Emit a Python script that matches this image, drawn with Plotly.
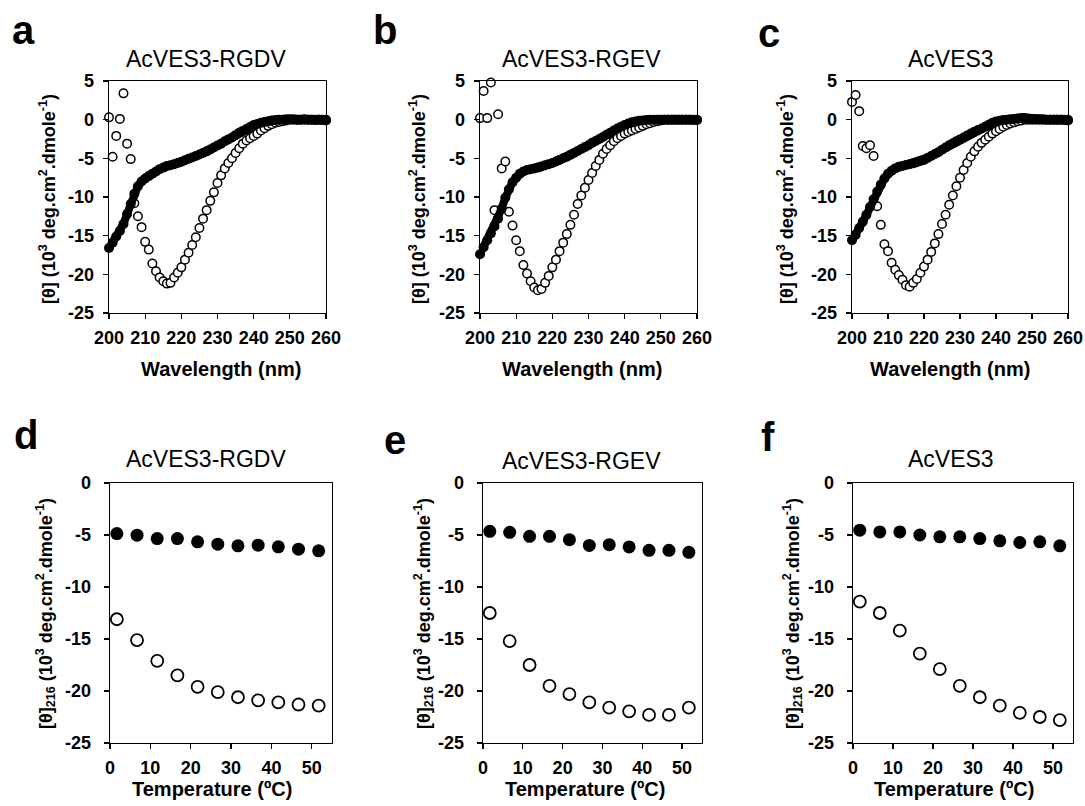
import plotly.graph_objects as go

# ---------------- data ----------------
WAVELENGTH = list(range(200, 261))

# Panel a: AcVES3-RGDV
A_FILLED = [-16.6, -15.9, -15.1, -14.4, -13.5, -12.2, -10.9, -9.6, -8.6, -8.0,
            -7.6, -7.3, -7.0, -6.7, -6.4, -6.2, -6.0, -5.9, -5.75, -5.6,
            -5.45, -5.25, -5.05, -4.9, -4.7, -4.5, -4.3, -4.1, -3.85, -3.6,
            -3.35, -3.1, -2.8, -2.55, -2.3, -2.0, -1.7, -1.45, -1.2, -0.95,
            -0.7, -0.55, -0.4, -0.3, -0.2, -0.1, -0.05, 0.0, 0.0, 0.05,
            0.05, 0.05, 0.0, 0.0, 0.05, 0.0, 0.0, -0.05, 0.0, -0.05, -0.1]
A_OPEN = [0.3, -4.8, -2.1, 0.1, 3.4, -3.1, -5.1, -10.8, -12.5, -13.9,
          -15.8, -16.8, -18.6, -19.6, -20.4, -20.9, -21.2, -21.1, -20.4, -19.8,
          -19.1, -18.1, -17.2, -16.2, -15.2, -14.0, -12.8, -11.7, -10.5, -9.4,
          -8.2, -7.2, -6.3, -5.6, -5.0, -4.3, -3.7, -3.1, -2.7, -2.4,
          -2.1, -1.8, -1.4, -1.1, -0.8, -0.6, -0.4, -0.3, -0.2, -0.1,
          0.0, 0.0, 0.0, 0.0, 0.0, 0.0, 0.0, 0.0, 0.0, 0.0, 0.0]

# Panel b: AcVES3-RGEV
B_FILLED = [-17.4, -16.5, -15.6, -14.7, -13.8, -12.8, -11.5, -10.1, -9.0, -8.1,
            -7.5, -7.0, -6.7, -6.5, -6.4, -6.3, -6.2, -6.05, -5.9, -5.75,
            -5.6, -5.4, -5.2, -5.0, -4.8, -4.55, -4.3, -4.05, -3.8, -3.55,
            -3.3, -3.0, -2.75, -2.5, -2.25, -1.95, -1.7, -1.4, -1.15, -0.9,
            -0.7, -0.5, -0.35, -0.25, -0.15, -0.1, -0.05, 0.0, 0.0, 0.0,
            0.0, 0.0, 0.0, 0.0, 0.0, 0.0, 0.0, 0.0, 0.0, -0.05, -0.05]
B_OPEN = [0.2, 3.7, 0.2, 4.8, -11.7, 0.7, -6.3, -5.4, -11.9, -13.7,
          -15.6, -17.0, -18.8, -19.9, -20.9, -21.7, -22.05, -21.9, -21.1, -20.2,
          -19.1, -18.1, -17.0, -15.9, -14.8, -13.6, -12.3, -10.9, -9.8, -8.8,
          -7.8, -6.9, -6.0, -5.2, -4.4, -3.8, -3.3, -2.8, -2.4, -2.1,
          -1.8, -1.6, -1.4, -1.2, -1.0, -0.8, -0.6, -0.45, -0.3, -0.2,
          -0.1, 0.0, 0.0, 0.0, 0.0, 0.0, 0.0, 0.0, 0.0, 0.0, 0.0]

# Panel c: AcVES3
C_FILLED = [-15.6, -14.9, -14.0, -13.2, -12.3, -11.3, -10.3, -9.3, -8.4, -7.6,
            -7.0, -6.6, -6.3, -6.1, -6.0, -5.85, -5.75, -5.65, -5.5, -5.35,
            -5.2, -4.95, -4.7, -4.45, -4.2, -3.9, -3.6, -3.3, -3.05, -2.8,
            -2.55, -2.3, -2.05, -1.8, -1.55, -1.35, -1.15, -0.9, -0.65, -0.4,
            -0.25, -0.15, -0.05, 0.0, 0.05, 0.1, 0.15, 0.2, 0.2, 0.15,
            0.1, 0.1, 0.05, 0.05, 0.0, 0.0, 0.0, 0.0, 0.0, -0.05, -0.1]
C_OPEN = [2.3, 3.2, 1.1, -3.4, -3.7, -3.3, -4.7, -11.2, -13.6, -16.1,
          -17.0, -18.5, -19.4, -20.1, -20.7, -21.4, -21.6, -21.1, -20.6, -19.8,
          -19.0, -18.1, -17.1, -16.0, -14.8, -13.5, -12.3, -11.0, -9.8, -8.6,
          -7.5, -6.5, -5.6, -4.8, -4.1, -3.5, -3.0, -2.6, -2.2, -1.8,
          -1.5, -1.2, -0.9, -0.7, -0.5, -0.35, -0.2, -0.1, 0.0, 0.0,
          0.0, 0.0, 0.0, 0.0, 0.0, 0.0, 0.0, 0.0, 0.0, 0.0, 0.0]

# Thermal melts, [theta]216
TEMPERATURE = [1.7, 6.7, 11.7, 16.7, 21.7, 26.7, 31.7, 36.7, 41.7, 46.7, 51.7]
D_FILLED = [-4.86, -5.02, -5.34, -5.34, -5.66, -5.88, -6.04, -5.98, -6.14, -6.36, -6.52]
D_OPEN = [-13.1, -15.1, -17.1, -18.5, -19.6, -20.1, -20.6, -20.9, -21.1, -21.3, -21.4]
E_FILLED = [-4.65, -4.74, -5.13, -5.13, -5.45, -6.0, -5.93, -6.15, -6.47, -6.47, -6.67]
E_OPEN = [-12.5, -15.2, -17.5, -19.5, -20.3, -21.1, -21.6, -21.95, -22.3, -22.3, -21.6]
F_FILLED = [-4.54, -4.7, -4.7, -5.0, -5.18, -5.18, -5.34, -5.56, -5.72, -5.66, -6.04]
F_OPEN = [-11.4, -12.5, -14.2, -16.4, -17.9, -19.5, -20.6, -21.4, -22.1, -22.5, -22.8]

TITLES = ["AcVES3-RGDV", "AcVES3-RGEV", "AcVES3", "AcVES3-RGDV", "AcVES3-RGEV", "AcVES3"]
LETTERS = ["a", "b", "c", "d", "e", "f"]
TOP_YTICKS = [5, 0, -5, -10, -15, -20, -25]
BOT_YTICKS = [0, -5, -10, -15, -20, -25]
TOP_XTICKS = [200, 210, 220, 230, 240, 250, 260]
BOT_XTICKS = [0, 10, 20, 30, 40, 50]

# ---------------- layout helpers ----------------
W, H = 1085, 806
def px(x):
    return x / W
def py(y):
    return 1 - y / H

FONT = "Liberation Sans, Arial, sans-serif"

# plot-area pixel boxes (left, right, top, bottom)
BOXES = [(109, 326, 81, 313), (480, 697, 81, 313), (852, 1068, 81, 313),
         (110, 332, 483, 743), (483, 702, 483, 743), (853, 1073, 483, 743)]

fig = go.Figure()

top_sets = [(A_FILLED, A_OPEN), (B_FILLED, B_OPEN), (C_FILLED, C_OPEN)]
bot_sets = [(D_FILLED, D_OPEN), (E_FILLED, E_OPEN), (F_FILLED, F_OPEN)]

for i, (filled, opened) in enumerate(top_sets):
    ax = "" if i == 0 else str(i + 1)
    fig.add_trace(go.Scatter(x=WAVELENGTH, y=opened, mode="markers",
                             xaxis="x" + ax, yaxis="y" + ax, cliponaxis=False,
                             marker=dict(symbol="circle", size=8.5, color="white",
                                         line=dict(color="black", width=1.5)),
                             showlegend=False))
    fig.add_trace(go.Scatter(x=WAVELENGTH, y=filled, mode="lines+markers",
                             xaxis="x" + ax, yaxis="y" + ax, cliponaxis=False,
                             line=dict(color="black", width=8),
                             marker=dict(symbol="circle", size=10, color="black",
                                         line=dict(width=0)),
                             showlegend=False))

for j, (filled, opened) in enumerate(bot_sets):
    ax = str(j + 4)
    fig.add_trace(go.Scatter(x=TEMPERATURE, y=opened, mode="markers",
                             xaxis="x" + ax, yaxis="y" + ax, cliponaxis=False,
                             marker=dict(symbol="circle", size=12, color="white",
                                         line=dict(color="black", width=1.8)),
                             showlegend=False))
    fig.add_trace(go.Scatter(x=TEMPERATURE, y=filled, mode="markers",
                             xaxis="x" + ax, yaxis="y" + ax, cliponaxis=False,
                             marker=dict(symbol="circle", size=13, color="black",
                                         line=dict(width=0)),
                             showlegend=False))

layout = dict(width=W, height=H, margin=dict(l=0, r=0, t=0, b=0, autoexpand=False),
              template="none",
              paper_bgcolor="white", plot_bgcolor="white", showlegend=False,
              font=dict(family=FONT, color="black"))

tickfont = dict(family=FONT, size=18, color="black", weight="bold")
for k, (l, r, t, b) in enumerate(BOXES):
    n = "" if k == 0 else str(k + 1)
    top = k < 3
    xt = TOP_XTICKS if top else BOT_XTICKS
    yt = TOP_YTICKS if top else BOT_YTICKS
    layout["xaxis" + n] = dict(domain=[px(l), px(r)], anchor="y" + n, automargin=False,
                               range=[200, 260] if top else [0, 55],
                               tickvals=xt, ticktext=[str(v) for v in xt],
                               ticks="outside", ticklen=5, tickwidth=1.3, tickcolor="black",
                               showline=True, linecolor="black", linewidth=1.4, mirror=True,
                               showgrid=False, zeroline=False, tickfont=tickfont,
                               ticklabelstandoff=3)
    layout["yaxis" + n] = dict(domain=[py(b), py(t)], anchor="x" + n, automargin=False,
                               range=[-25, 5] if top else [-25, 0],
                               tickvals=yt, ticktext=[str(v) for v in yt],
                               ticks="outside", ticklen=5, tickwidth=1.3, tickcolor="black",
                               showline=True, linecolor="black", linewidth=1.4, mirror=True,
                               showgrid=False, zeroline=False, tickfont=tickfont,
                               ticklabelstandoff=5 if top else 9)

ann = []
# panel letters
LETTER_POS = [(23, 30), (385, 30), (769, 33), (26, 435), (395, 440), (768, 437)]
for s, (x, y) in zip(LETTERS, LETTER_POS):
    ann.append(dict(text="<b>%s</b>" % s, x=px(x), y=py(y), xref="paper", yref="paper",
                    showarrow=False, xanchor="center", yanchor="middle",
                    font=dict(family=FONT, size=40, color="black")))
# panel titles
TITLE_POS = [(206, 59), (581, 59), (951, 59), (206, 459), (581, 461), (951, 459)]
for s, (x, y) in zip(TITLES, TITLE_POS):
    ann.append(dict(text=s, x=px(x), y=py(y), xref="paper", yref="paper",
                    showarrow=False, xanchor="center", yanchor="middle",
                    font=dict(family=FONT, size=23, color="black")))
# x-axis titles
XT_POS = [(221, 369), (582, 369), (950, 369), (212, 789), (585, 789), (954, 789)]
for k, (x, y) in enumerate(XT_POS):
    s = "Wavelength (nm)" if k < 3 else "Temperature (ºC)"
    ann.append(dict(text="<b>%s</b>" % s, x=px(x), y=py(y), xref="paper", yref="paper",
                    showarrow=False, xanchor="center", yanchor="middle",
                    font=dict(family=FONT, size=20, color="black")))
# y-axis titles
YT_POS = [(47, 199), (417, 199), (785, 199), (45, 614), (423, 614), (792, 614)]
for k, (x, y) in enumerate(YT_POS):
    if k < 3:
        s = "<b>[θ] (10<sup>3</sup> deg.cm<sup>2</sup>.dmole<sup>-1</sup>)</b>"
    else:
        s = "<b>[θ]<sub>216</sub> (10<sup>3</sup> deg.cm<sup>2</sup>.dmole<sup>-1</sup>)</b>"
    ann.append(dict(text=s, x=px(x), y=py(y), xref="paper", yref="paper",
                    showarrow=False, xanchor="center", yanchor="middle", textangle=-90,
                    font=dict(family=FONT, size=18, color="black")))

layout["annotations"] = ann
fig.update_layout(**layout)
# remove the browser's default 8px body margin so the figure sits at the page origin
fig.write_html("out.html",
               config={"displayModeBar": False, "staticPlot": True},
               post_script="document.body.style.margin='0';document.body.style.overflow='hidden';")
